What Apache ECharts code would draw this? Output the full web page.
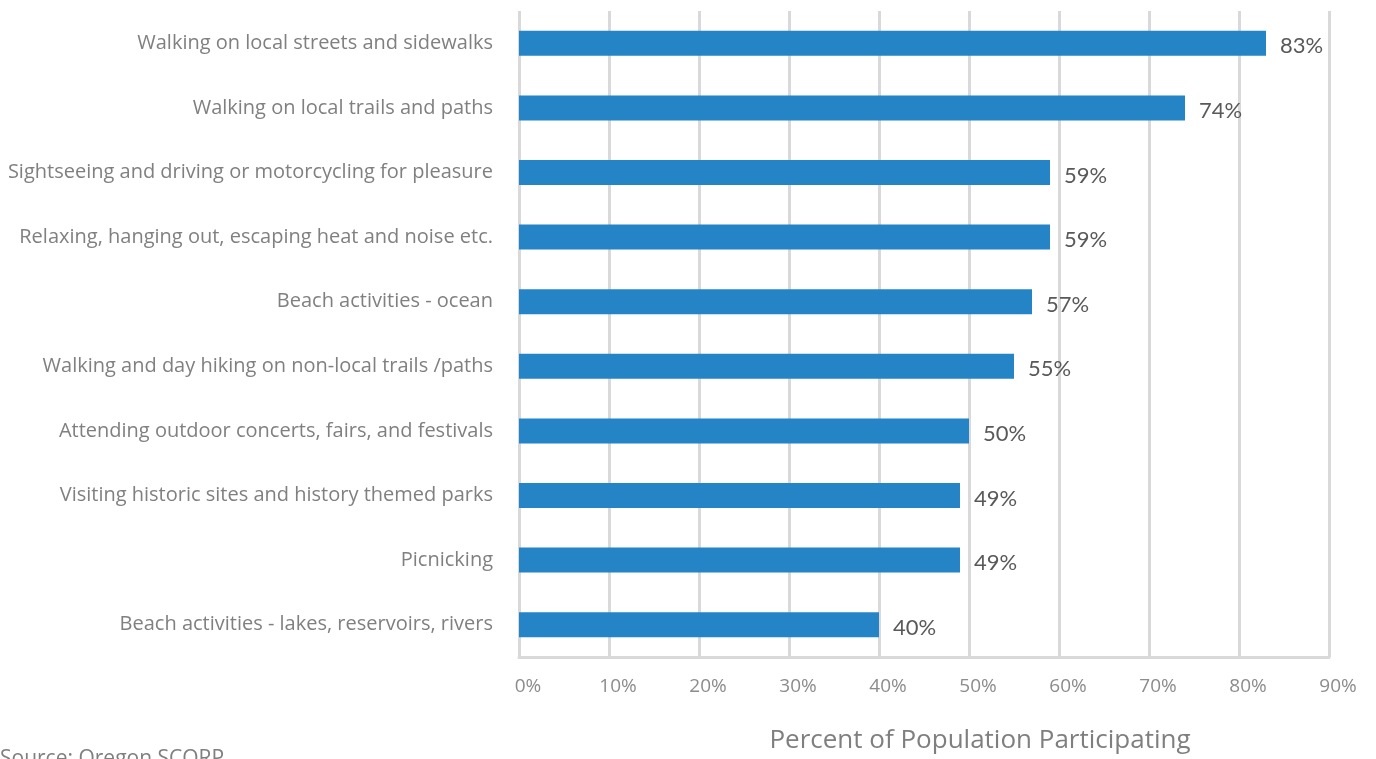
<!DOCTYPE html>
<html>
<head>
<meta charset="utf-8">
<title>Outdoor Recreation Participation</title>
<script src="https://cdn.jsdelivr.net/npm/echarts@6/dist/echarts.min.js"></script>
<style>
  html, body { margin: 0; padding: 0; background: #ffffff; overflow: hidden; }
  #chart { width: 1376px; height: 759px; }
</style>
</head>
<body>
<div id="chart"></div>
<script>
// Activities, listed top to bottom
const categories = [
  'Walking on local streets and sidewalks',
  'Walking on local trails and paths',
  'Sightseeing and driving or motorcycling for pleasure',
  'Relaxing, hanging out, escaping heat and noise etc.',
  'Beach activities - ocean',
  'Walking and day hiking on non-local trails /paths',
  'Attending outdoor concerts, fairs, and festivals',
  'Visiting historic sites and history themed parks',
  'Picnicking',
  'Beach activities - lakes, reservoirs, rivers'
];

// Percent of population participating in each activity
const participation = [83, 74, 59, 59, 57, 55, 50, 49, 49, 40];

const axisTitle = 'Percent of Population Participating';
const sourceNote = 'Source: Oregon SCORP';

const TEXT_FONT = '"Open Sans", "Noto Sans", sans-serif';
const VALUE_FONT = 'Lato, "Open Sans", sans-serif';
const GRID_COLOR = '#d9d9d9';

const chart = echarts.init(document.getElementById('chart'), null, { renderer: 'canvas' });

chart.setOption({
  backgroundColor: '#ffffff',
  animation: false,
  grid: { left: 519, width: 810, top: 11, height: 652, containLabel: false },
  xAxis: {
    type: 'value',
    min: 0,
    max: 90,
    interval: 10,
    axisLine: { show: true, lineStyle: { color: GRID_COLOR, width: 3 } },
    axisTick: { show: false },
    splitLine: { show: true, lineStyle: { color: GRID_COLOR, width: 3 } },
    axisLabel: {
      formatter: '{value}%',
      color: '#8c8c8c',
      fontFamily: TEXT_FONT,
      fontSize: 19,
      margin: 20,
      padding: [0, 0, 0, 18]
    },
    name: axisTitle,
    nameLocation: 'middle',
    nameGap: 71,
    nameTextStyle: {
      color: '#7f7f7f',
      fontFamily: TEXT_FONT,
      fontSize: 26,
      padding: [0, 0, 0, 112]
    }
  },
  yAxis: {
    type: 'category',
    inverse: true,
    data: categories,
    axisLine: { show: false },
    axisTick: { show: false },
    splitLine: { show: false },
    axisLabel: {
      color: '#808080',
      fontFamily: TEXT_FONT,
      fontSize: 20,
      margin: 26,
      padding: [2, 0, 0, 0]
    }
  },
  series: [{
    type: 'bar',
    data: participation,
    barWidth: 25,
    itemStyle: { color: '#2584c6' },
    label: {
      show: true,
      position: 'right',
      distance: 14,
      offset: [0, 3],
      formatter: '{c}%',
      color: '#595959',
      fontFamily: VALUE_FONT,
      fontSize: 22
    }
  }],
  graphic: [{
    type: 'text',
    left: 0,
    top: 749,
    style: {
      text: sourceNote,
      fill: '#7f7f7f',
      font: '21px ' + TEXT_FONT
    }
  }]
});
</script>
</body>
</html>
